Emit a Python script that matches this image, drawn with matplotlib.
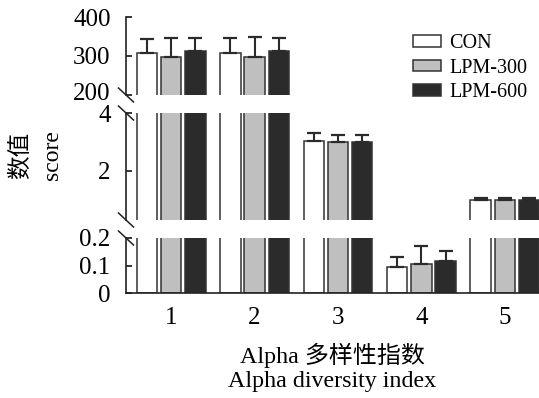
import matplotlib
matplotlib.use("Agg")
import matplotlib.pyplot as plt
from matplotlib.patches import Patch
from matplotlib.lines import Line2D
from matplotlib.transforms import ScaledTranslation
import numpy as np

plt.rcParams['font.family'] = ['Liberation Serif', 'Noto Sans CJK SC']

groups = [1, 2, 3, 4, 5]
series_names = ["CON", "LPM-300", "LPM-600"]
con = [307, 307, 3.03, 0.096, 1.0]
lpm300 = [298, 298, 2.99, 0.104, 1.0]
lpm600 = [313, 313, 2.99, 0.115, 1.0]
con_err = [37, 40, 0.28, 0.034, 0.06]
lpm300_err = [47, 50, 0.24, 0.066, 0.06]
lpm600_err = [34, 34, 0.25, 0.037, 0.06]
xlabel1 = "Alpha 多样性指数"
xlabel2 = "Alpha diversity index"
ylabel1 = "数值"
ylabel2 = "score"

values = [con, lpm300, lpm600]
errors = [con_err, lpm300_err, lpm600_err]
colors = ["#ffffff", "#bfbfbf", "#2b2b2b"]
edge = "#333333"

W, H = 539, 398
fig = plt.figure(figsize=(W / 100, H / 100), dpi=100)

left = 126 / W
right = 1.0
def ax_rect(top_px, bot_px):
    return [left, 1 - bot_px / H, right - left, (bot_px - top_px) / H]

ax_top = fig.add_axes(ax_rect(17, 95))
ax_mid = fig.add_axes(ax_rect(113, 220))
ax_bot = fig.add_axes(ax_rect(238, 293))
axes = [ax_top, ax_mid, ax_bot]
ylims = [(200, 400), (0.3, 4), (0, 0.2)]
yticks = [[200, 300, 400], [2, 4], [0, 0.1, 0.2]]
yticklabels = [["200", "300", "400"], ["2", "4"], ["0", "0.1", "0.2"]]

x = np.array(groups, dtype=float)
offs = [-0.29, 0.0, 0.29]
bw = 0.245

for ax, yl, yt, ytl in zip(axes, ylims, yticks, yticklabels):
    for vals, errs, c, o in zip(values, errors, colors, offs):
        ax.bar(x + o, vals, width=bw, color=c, edgecolor=edge, linewidth=1.1, zorder=2)
        ax.errorbar(x + o, vals, yerr=[np.zeros(len(errs)), errs], fmt='none',
                    ecolor="#2b2b2b", elinewidth=1.5, capsize=4.8, capthick=1.6, zorder=3)
    ax.set_ylim(*yl)
    ax.set_xlim(0.458, 5.41)
    ax.set_yticks(yt)
    ax.set_yticklabels(ytl)
    ax.tick_params(axis='y', direction='in', length=4, width=1.1, pad=11, labelsize=18)
    for s in ['top', 'right']:
        ax.spines[s].set_visible(False)
    ax.spines['left'].set_linewidth(1.2)
    ax.spines['left'].set_color("#222222")
    ax.patch.set_alpha(0)

for ax in [ax_top, ax_mid]:
    ax.spines['bottom'].set_visible(False)
    ax.set_xticks([])

# nudge the touching labels at the upper break apart slightly
lab200 = ax_top.get_yticklabels()[0]
lab200.set_transform(lab200.get_transform() + ScaledTranslation(0, 0.03, fig.dpi_scale_trans))
lab4 = ax_mid.get_yticklabels()[-1]
lab4.set_transform(lab4.get_transform() + ScaledTranslation(0, -0.01, fig.dpi_scale_trans))

ax_bot.spines['bottom'].set_linewidth(1.2)
ax_bot.spines['bottom'].set_color("#222222")
ax_bot.set_xticks(groups)
ax_bot.set_xticklabels([str(g) for g in groups])
ax_bot.tick_params(axis='x', direction='in', length=4, width=1.1, pad=10, labelsize=18)

# break marks
dx, dy = 7.5 / W, 7 / H
for ypx in [95, 113, 220, 238]:
    yf = 1 - ypx / H
    fig.add_artist(Line2D([left - dx, left + dx], [yf + dy, yf - dy],
                          transform=fig.transFigure, color="#222222", linewidth=1.1))

# labels
xc = (126 + 539) / 2 / W
fig.text(xc, 1 - 355 / H, xlabel1, ha='center', va='center', fontsize=17.3)
fig.text(xc, 1 - 382 / H, xlabel2, ha='center', va='center', fontsize=17.3)
fig.text(21 / W, 1 - 155 / H, ylabel1, ha='center', va='center', rotation=90, fontsize=17)
fig.text(53 / W, 1 - 155 / H, ylabel2, ha='center', va='center', rotation=90, fontsize=17)

handles = [Patch(facecolor=c, edgecolor=edge, linewidth=1.1) for c in colors]
fig.legend(handles, series_names, loc='upper left', bbox_to_anchor=(413 / W, 1 - 34 / H),
           frameon=False, fontsize=14.5, handlelength=1.4, handleheight=0.5,
           handletextpad=0.4, labelspacing=0.28, borderpad=0, borderaxespad=0)

fig.savefig("out.png", dpi=100)
